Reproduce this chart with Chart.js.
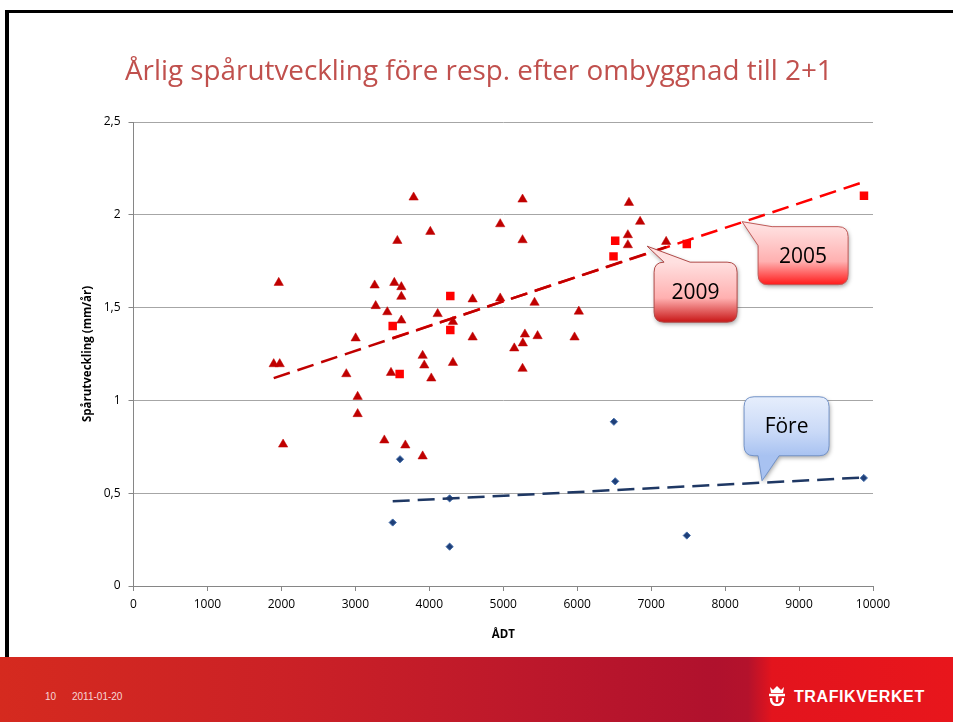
<!DOCTYPE html>
<html lang="sv">
<head>
<meta charset="utf-8">
<title>Årlig spårutveckling</title>
<script src="https://cdn.jsdelivr.net/npm/chart.js@4.4.1/dist/chart.umd.min.js"></script>
<style>
    html, body { margin: 0; padding: 0; background: #fff; }
    #slide { position: relative; width: 953px; height: 722px; overflow: hidden; background: #fff; }
    #frame-top { position: absolute; left: 5px; top: 10px; width: 948px; height: 3px; background: #000; }
    #frame-left { position: absolute; left: 5px; top: 10px; width: 4px; height: 648px; background: #000; }
    #chart-box { position: absolute; left: 0; top: 0; width: 953px; height: 657px; }
    #footer {
        position: absolute; left: 0; top: 657px; width: 953px; height: 65px;
        background: linear-gradient(to right, #d52a1f 0%, #cb2126 30%, #bd182b 55%, #b0112d 75%, #b4122c 78.5%, #e3141d 81%, #e8161c 100%);
    }
    #footer .date { position: absolute; top: 34px; font: 10px "Liberation Sans", Arial, sans-serif; color: #f6d6d6; }
    #footer .logo { position: absolute; left: 766px; top: 27px; color: #fff; font: bold 16px "Liberation Sans", Arial, sans-serif; letter-spacing: 0.6px; }
    #footer .logo svg { vertical-align: -4px; margin-right: 6px; }
</style>
</head>
<body>
<div id="slide">
    <div id="chart-box"><canvas id="rut-chart"></canvas></div>
    <div id="frame-top"></div>
    <div id="frame-left"></div>
    <div id="footer">
        <div class="date" style="left:45px">10</div>
        <div class="date" style="left:72px">2011-01-20</div>
        <div class="logo"><svg width="22" height="22" viewBox="0 0 22 22"><path d="M4 3 L7 6 L11 2 L15 6 L18 3 L17 9 L5 9 Z" fill="#fff"/><path d="M3 11 H19 M11 11 V18 M5 14 Q5 21 11 21 Q17 21 17 14" stroke="#fff" stroke-width="2.4" fill="none"/></svg>TRAFIKVERKET</div>
    </div>
</div>
<script>
// Före ombyggnad (blå romber)
const foreAdt  = [3604, 6496, 6514, 4275, 9876, 3505, 4275, 7482];
const foreSpar = [0.683, 0.885, 0.564, 0.472, 0.582, 0.342, 0.212, 0.272];

// Efter ombyggnad, mätning 2009 (mörkröda trianglar)
const adt2009 = [3788, 4014, 3568, 1964, 3261, 3527, 3622, 3622, 3275, 3432,
                 3622, 4113, 3004, 1896, 1977, 2878, 3482, 3910, 3932, 4027,
                 3031, 3031, 2023, 3392, 3676, 3910, 4320, 5261, 6700, 4959,
                 5261, 6685, 6685, 4586, 4959, 5423, 6022, 4320, 4586, 5293,
                 5464, 5265, 5149, 5964, 5261, 6851, 7203];
const spar2009 = [2.094, 1.909, 1.860, 1.634, 1.620, 1.634, 1.611, 1.559, 1.509, 1.476,
                  1.431, 1.466, 1.335, 1.196, 1.196, 1.142, 1.149, 1.241, 1.189, 1.119,
                  1.020, 0.927, 0.763, 0.785, 0.758, 0.699, 1.203, 2.083, 2.065, 1.950,
                  1.864, 1.891, 1.837, 1.545, 1.550, 1.527, 1.479, 1.424, 1.340, 1.356,
                  1.347, 1.308, 1.281, 1.340, 1.171, 1.963, 1.855];

// Efter ombyggnad, mätning 2005 (röda kvadrater)
const adt2005  = [3505, 3599, 4284, 4284, 6514, 6491, 7482, 9878];
const spar2005 = [1.401, 1.142, 1.562, 1.379, 1.860, 1.776, 1.843, 2.103];

// Axlar
const xTickValues = [0, 1000, 2000, 3000, 4000, 5000, 6000, 7000, 8000, 9000, 10000];
const yTickValues = [0, 0.5, 1, 1.5, 2, 2.5];

const titleText = 'Årlig spårutveckling före resp. efter ombyggnad till 2+1';

function toPoints(xs, ys) {
    return xs.map((x, i) => ({ x: x, y: ys[i] }));
}

// linjär trendlinje (minsta kvadrat), från minsta till största x
function trendLine(xs, ys) {
    const n = xs.length;
    const mx = xs.reduce((a, b) => a + b, 0) / n;
    const my = ys.reduce((a, b) => a + b, 0) / n;
    let sxy = 0, sxx = 0;
    for (let i = 0; i < n; i++) {
        sxy += (xs[i] - mx) * (ys[i] - my);
        sxx += (xs[i] - mx) * (xs[i] - mx);
    }
    const k = sxy / sxx;
    const m = my - k * mx;
    const x0 = Math.min(...xs), x1 = Math.max(...xs);
    return [{ x: x0, y: m + k * x0 }, { x: x1, y: m + k * x1 }];
}

// pratbubblor
const callouts = [
    { text: 'Före', tip: [8500, 0.567], box: [-18, -84, 85, 59], tail: 'bottom', base: [14, 35],
      top: '#e6eefc', mid: '#c9d9f7', bottom: '#a8c2f1', stroke: '#7393c9' },
    { text: '2009', tip: [6945, 1.831], box: [7, 16, 83, 60], tail: 'top', base: [10, 36],
      top: '#ffe0e0', mid: '#ffb0b0', bottom: '#c81616', stroke: '#b04a48' },
    { text: '2005', tip: [8230, 1.963], box: [16, 5, 90, 58], tail: 'corner', base: [14, 19],
      top: '#ffe0e0', mid: '#ffb0b0', bottom: '#ff1a1a', stroke: '#c05a58' }
];

function calloutPath(ctx, L, T, W, H, c, tx, ty) {
    const R = L + W, B = T + H, r = 10;
    ctx.beginPath();
    if (c.tail === 'corner') {
        ctx.moveTo(L + c.base[0], T);
    } else {
        ctx.moveTo(L + r, T);
    }
    if (c.tail === 'top') {
        ctx.lineTo(L + c.base[0], T);
        ctx.lineTo(tx, ty);
        ctx.lineTo(L + c.base[1], T);
    }
    ctx.lineTo(R - r, T);
    ctx.quadraticCurveTo(R, T, R, T + r);
    ctx.lineTo(R, B - r);
    ctx.quadraticCurveTo(R, B, R - r, B);
    if (c.tail === 'bottom') {
        ctx.lineTo(L + c.base[1], B);
        ctx.lineTo(tx, ty);
        ctx.lineTo(L + c.base[0], B);
    }
    ctx.lineTo(L + r, B);
    ctx.quadraticCurveTo(L, B, L, B - r);
    if (c.tail === 'corner') {
        ctx.lineTo(L, T + c.base[1]);
        ctx.lineTo(tx, ty);
    } else {
        ctx.lineTo(L, T + r);
        ctx.quadraticCurveTo(L, T, L + r, T);
    }
    ctx.closePath();
}

const calloutPlugin = {
    id: 'callouts',
    afterDatasetsDraw(chart) {
        const ctx = chart.ctx;
        const xs = chart.scales.x, ys = chart.scales.y;
        callouts.forEach(c => {
            const tx = xs.getPixelForValue(c.tip[0]);
            const ty = ys.getPixelForValue(c.tip[1]);
            const L = tx + c.box[0], T = ty + c.box[1], W = c.box[2], H = c.box[3];
            ctx.save();
            const g = ctx.createLinearGradient(0, T, 0, T + H);
            g.addColorStop(0, c.top);
            g.addColorStop(0.6, c.mid);
            g.addColorStop(1, c.bottom);
            calloutPath(ctx, L, T, W, H, c, tx, ty);
            ctx.shadowColor = 'rgba(0,0,0,0.35)';
            ctx.shadowBlur = 4;
            ctx.shadowOffsetX = 1;
            ctx.shadowOffsetY = 2;
            ctx.fillStyle = g;
            ctx.fill();
            ctx.shadowColor = 'transparent';
            ctx.lineWidth = 1;
            ctx.strokeStyle = c.stroke;
            ctx.stroke();
            ctx.fillStyle = '#000';
            ctx.font = '21px "Open Sans"';
            ctx.textAlign = 'center';
            ctx.textBaseline = 'middle';
            ctx.fillText(c.text, L + W / 2, T + H / 2 + 1);
            ctx.restore();
        });
    }
};

// rubrik, anpassad till bredden i originalet
const titlePlugin = {
    id: 'slideTitle',
    afterDraw(chart) {
        const ctx = chart.ctx;
        ctx.save();
        ctx.font = '28px "Open Sans"';
        const w = ctx.measureText(titleText).width;
        const size = 28 * 708 / w;
        ctx.font = size.toFixed(2) + 'px "Open Sans"';
        ctx.fillStyle = '#c0504d';
        ctx.textAlign = 'left';
        ctx.textBaseline = 'alphabetic';
        ctx.fillText(titleText, 125, 80);
        ctx.restore();
    }
};

document.addEventListener('DOMContentLoaded', () => {
    const ctx = document.getElementById('rut-chart').getContext('2d');
    const trendStyle = { showLine: true, pointRadius: 0, borderWidth: 2.5, borderDash: [17, 8], fill: false };

    new Chart(ctx, {
        type: 'scatter',
        data: {
            datasets: [
                Object.assign({ label: 'Trend 2009', data: trendLine(adt2009, spar2009), borderColor: '#c00000' }, trendStyle),
                Object.assign({ label: 'Trend 2005', data: trendLine(adt2005, spar2005), borderColor: '#ff0000' }, trendStyle),
                Object.assign({ label: 'Trend före', data: trendLine(foreAdt, foreSpar), borderColor: '#1f3864' }, trendStyle),
                {
                    label: 'Före',
                    data: toPoints(foreAdt, foreSpar),
                    pointStyle: 'rectRot',
                    pointRadius: 3.6,
                    backgroundColor: '#1f3f78',
                    borderColor: '#3f6aa8',
                    borderWidth: 1
                },
                {
                    label: '2009',
                    data: toPoints(adt2009, spar2009),
                    pointStyle: 'triangle',
                    pointRadius: 5.4,
                    backgroundColor: '#c00000',
                    borderColor: '#c00000',
                    borderWidth: 0.5
                },
                {
                    label: '2005',
                    data: toPoints(adt2005, spar2005),
                    pointStyle: 'rect',
                    pointRadius: 6,
                    backgroundColor: '#ff0000',
                    borderColor: '#ff0000',
                    borderWidth: 0
                }
            ]
        },
        options: {
            responsive: true,
            maintainAspectRatio: false,
            animation: false,
            layout: { padding: { left: 80, right: 80, top: 122, bottom: 15 } },
            plugins: {
                legend: { display: false },
                tooltip: { enabled: false }
            },
            scales: {
                x: {
                    type: 'linear',
                    min: 0,
                    max: 10000,
                    afterBuildTicks: scale => { scale.ticks = xTickValues.map(v => ({ value: v })); },
                    afterFit: scale => { scale.height = 56; },
                    ticks: {
                        color: '#000',
                        font: { family: 'Open Sans', size: 12 },
                        padding: 6,
                        maxRotation: 0,
                        callback: v => String(v)
                    },
                    grid: { drawOnChartArea: false, tickLength: 5, tickColor: '#868686' },
                    border: { color: '#868686' },
                    title: {
                        display: true,
                        text: 'ÅDT',
                        color: '#000',
                        font: { family: 'Open Sans', size: 11.5, weight: 'bold' },
                        padding: { top: 0, bottom: 0 }
                    }
                },
                y: {
                    type: 'linear',
                    min: 0,
                    max: 2.5,
                    afterBuildTicks: scale => { scale.ticks = yTickValues.map(v => ({ value: v })); },
                    afterFit: scale => { scale.width = 53.5; },
                    ticks: {
                        color: '#000',
                        font: { family: 'Open Sans', size: 12 },
                        padding: 8,
                        callback: v => String(v).replace('.', ',')
                    },
                    grid: { color: '#a6a6a6', tickLength: 5, tickColor: '#868686' },
                    border: { color: '#868686' },
                    title: {
                        display: true,
                        text: 'Spårutveckling (mm/år)',
                        color: '#000',
                        font: { family: 'Open Sans', size: 11.5, weight: 'bold' },
                        padding: { top: 1, bottom: 0 }
                    }
                }
            }
        },
        plugins: [calloutPlugin, titlePlugin]
    });
});
</script>
</body>
</html>
